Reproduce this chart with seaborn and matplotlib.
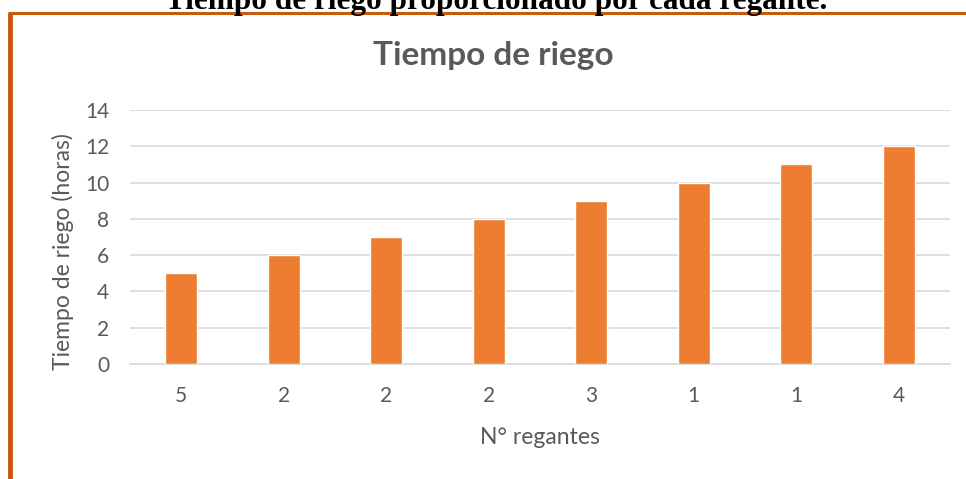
import matplotlib
matplotlib.use("Agg")
import matplotlib.pyplot as plt
import seaborn as sns
import pandas as pd
from matplotlib.lines import Line2D

regantes = ["5", "2", "2", "2", "3", "1", "1", "4"]
horas = [5, 6, 7, 8, 9, 10, 11, 12]
yticks = [0, 2, 4, 6, 8, 10, 12, 14]

sns.set_theme(style="white")
plt.rcParams['font.family'] = ['Lato', 'DejaVu Sans']

df = pd.DataFrame({"pos": [str(i) for i in range(len(regantes))], "horas": horas})

fig = plt.figure(figsize=(9.66, 4.79), dpi=100)
ax = fig.add_axes([130/966, 1-364/479, 820/966, 254/479])
sns.barplot(data=df, x="pos", y="horas", color="#ED7D31", saturation=1, width=0.31,
            ax=ax, zorder=3)
ax.set_ylim(0, 14)
ax.set_yticks(yticks)
ax.set_xticks(range(len(regantes)))
ax.set_xticklabels(regantes)
ax.set_xlim(-0.5, len(regantes) - 0.5)
ax.grid(axis="y", color="#D9D9D9", linewidth=1.2, zorder=0)
ax.grid(axis="x", visible=False)
for s in ["top", "right", "left"]:
    ax.spines[s].set_visible(False)
ax.spines["bottom"].set_color("#D9D9D9")
ax.spines["bottom"].set_linewidth(1.2)
ax.tick_params(axis="y", colors="#595959", labelsize=15, length=0, pad=15)
ax.tick_params(axis="x", colors="#595959", labelsize=15, length=0, pad=16)
for lab in ax.get_yticklabels() + ax.get_xticklabels():
    lab.set_color("#595959")
ax.set_xlabel("N° regantes", fontsize=16.5, color="#595959", va="center")
ax.xaxis.set_label_coords(0.5, -(437-364)/254)
ax.set_ylabel("Tiempo de riego (horas)", fontsize=16.5, color="#595959", va="center")
ax.yaxis.set_label_coords((63-130)/820, (364-252)/254)

fig.text(493/966, 1-56/479, "Tiempo de riego", fontsize=24, fontweight="bold",
         color="#595959", ha="center", va="center")
fig.text(496/966, 1-9/479, "Tiempo de riego proporcionado por cada regante.",
         fontsize=22.5, fontweight="bold", family=["Liberation Serif"],
         color="black", ha="center", va="baseline")

border = "#C55A11"
fig.add_artist(Line2D([10/966, 10/966], [0, 1-13/479], color=border, linewidth=3.5,
                      transform=fig.transFigure, solid_capstyle="butt"))
fig.add_artist(Line2D([8/966, 1], [1-13/479, 1-13/479], color=border, linewidth=2.2,
                      transform=fig.transFigure, solid_capstyle="butt"))

fig.savefig("out.png", dpi=100)
